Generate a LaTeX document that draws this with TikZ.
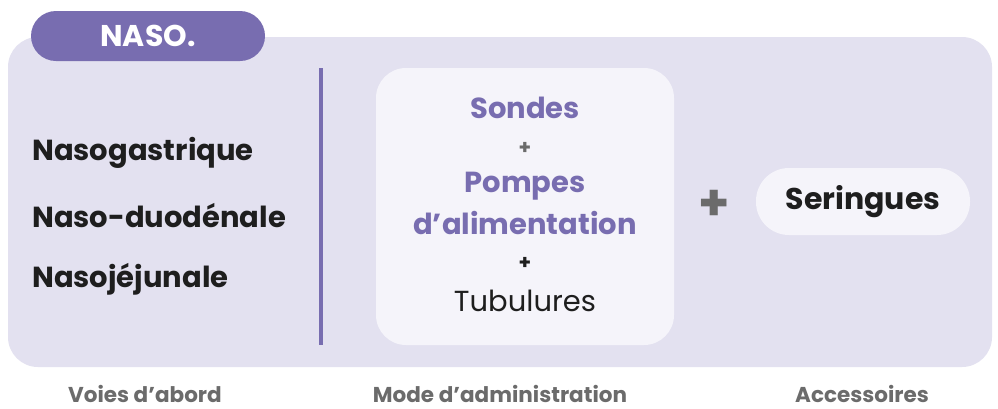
\documentclass[tikz,border=0pt]{standalone}
\usepackage{fontspec}
\setmainfont{Poppins}
\definecolor{panel}{HTML}{E3E1F0}
\definecolor{purp}{HTML}{786DB0}
\definecolor{inner}{HTML}{F5F4FA}
\definecolor{txt}{HTML}{1E1E1E}
\definecolor{gry}{HTML}{6B6B6B}
\tikzset{
  px/.style={x=1pt,y=-1pt},
  item/.style={anchor=west,font=\fontsize{29}{32}\selectfont\bfseries,text=txt,inner sep=0pt},
  ptitle/.style={font=\fontsize{29}{32}\selectfont\bfseries,text=purp,inner sep=0pt},
  smallplus/.style={font=\fontsize{20}{22}\selectfont\bfseries,inner sep=0pt},
  caption/.style={font=\fontsize{21.5}{24}\selectfont\bfseries,text=gry,inner sep=0pt,anchor=base},
}
\begin{document}
\begin{tikzpicture}[px]
\fill[white] (0,0) rectangle (998,408);
\useasboundingbox (0,0) rectangle (998,408);
% main panel
\fill[panel,rounded corners=30pt] (8,37) rectangle (992,367);
% tab
\node[fill=purp,rounded corners=25pt,minimum width=234pt,minimum height=50pt,inner sep=0pt,
  text=white,font=\fontsize{30}{34}\selectfont\bfseries] (tab) at (148,36) {NASO.};
% divider
\coordinate (dtop) at (321,68);
\coordinate (dbot) at (321,345);
\draw[purp,line width=4pt] (dtop) -- (dbot);
% left items
\node[item] (n1) at (32,153) {Nasogastrique};
\node[item] (n2) at (32,216) {Naso-duodénale};
\node[item] (n3) at (32,279) {Nasojéjunale};
% inner box
\node[fill=inner,rounded corners=30pt,minimum width=298pt,minimum height=277pt,inner sep=0pt] (box) at (525,206.5) {};
\node[ptitle] (s1) at (525,108) {Sondes};
\node[smallplus,text=gry] (p1) at (525,148) {+};
\node[ptitle] (s2) at (525,186) {Pompes};
\node[ptitle] (s3) at (525,223) {d’alimentation};
\node[smallplus,text=txt] (p2) at (525,263) {+};
\node[font=\fontsize{29}{32}\selectfont,text=txt,inner sep=0pt] (s4) at (525,301) {Tubulures};
% big plus
\node[font=\fontsize{50}{54}\selectfont\bfseries,text=gry,inner sep=0pt] (bp) at (714,205) {+};
% seringues pill
\node[fill=inner,rounded corners=33pt,minimum width=214pt,minimum height=67pt,inner sep=0pt,
  text=txt,font=\fontsize{30}{34}\selectfont\bfseries] (ser) at (863,201.5) {Seringues};
% captions
\node[caption] (c1) at (145,402) {Voies d’abord};
\node[caption] (c2) at (500,402) {Mode d’administration};
\node[caption] (c3) at (862,402) {Accessoires};
\end{tikzpicture}
\end{document}
